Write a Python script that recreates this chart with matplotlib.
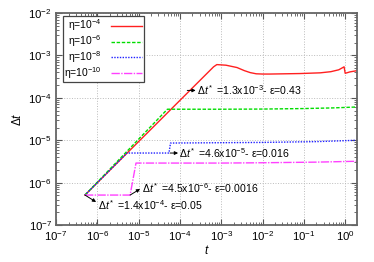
import numpy as np
import matplotlib
matplotlib.use('Agg')
import matplotlib.pyplot as plt
from matplotlib.ticker import LogLocator, NullFormatter

plt.rcParams['font.family'] = ['Liberation Sans', 'DejaVu Sans']
plt.rcParams['mathtext.fontset'] = 'custom'
plt.rcParams['mathtext.rm'] = 'Liberation Sans'
plt.rcParams['mathtext.it'] = 'Liberation Sans:italic'

# curves: time t and step size dt
t_e4 = [5.0e-7, 6.5e-4, 7.8e-4, 1.3e-3, 2.4e-3, 3.6e-3, 5.0e-3, 7.0e-3, 1.0e-2, 1.5e-2, 8.0e-2,
        0.25, 0.45, 0.7, 0.94, 1.0, 1.3, 1.95]
dt_e4 = [5.1e-7, 5.4e-4, 6.1e-4, 5.9e-4, 5.2e-4, 4.4e-4, 3.95e-4, 3.7e-4, 3.65e-4, 3.65e-4, 3.75e-4,
         3.9e-4, 4.15e-4, 4.6e-4, 5.4e-4, 3.8e-4, 4.1e-4, 4.4e-4]

t_e6 = [5.0e-7, 4.95e-5, 1e-3, 1e-2, 0.1, 0.5, 1.95]
dt_e6 = [5.1e-7, 5.4e-5, 5.4e-5, 5.45e-5, 5.6e-5, 5.8e-5, 6.1e-5]

t_e8 = [5.0e-7, 5.2e-6, 5.4e-5, 5.9e-5, 1e-2, 0.2, 1.95]
dt_e8 = [5.1e-7, 5.0e-6, 5.0e-6, 8.6e-6, 8.9e-6, 9.3e-6, 1.0e-5]

t_e10 = [5.0e-7, 6.2e-6, 8.6e-6, 1e-3, 1e-2, 0.2, 1.95]
dt_e10 = [5.1e-7, 5.1e-7, 2.9e-6, 2.9e-6, 2.95e-6, 3.05e-6, 3.2e-6]

labels = ['η=10$^{-4}$', 'η=10$^{-6}$', 'η=10$^{-8}$', 'η=10$^{-10}$']

# annotations: (arrow tail on curve, arrow head, text position, text)
notes = [
    ((1.5e-4, 1.5e-4), (2.4e-4, 1.5e-4), (2.6e-4, 1.5e-4), r'$\Delta t^*$ =1.3x10$^{-3}$- ε=0.43'),
    ((5.75e-5, 5.0e-6), (9.0e-5, 5.0e-6), (9.6e-5, 5.0e-6), r'$\Delta t^*$ =4.6x10$^{-5}$- ε=0.016'),
    ((6.2e-6, 5.1e-7), (1.08e-5, 7.1e-7), (1.2e-5, 7.5e-7), r'$\Delta t^*$ =4.5x10$^{-6}$- ε=0.0016'),
    ((5.0e-7, 5.1e-7), (9.3e-7, 3.5e-7), (1.04e-6, 3.0e-7), r'$\Delta t^*$ =1.4x10$^{-4}$- ε=0.05'),
]

fig = plt.figure(figsize=(3.74, 2.62), dpi=100)
ax = fig.add_axes([0.150, 0.141, 0.805, 0.809])

ax.plot(t_e4, dt_e4, color='#ff2020', lw=1.0, label=labels[0])
ax.plot(t_e6, dt_e6, color='#00dd00', lw=1.0, ls=(0, (2.5, 1.2)), label=labels[1])
ax.plot(t_e8, dt_e8, color='#2020ff', lw=1.0, ls=(0, (1, 1)), label=labels[2])
ax.plot(t_e10, dt_e10, color='#ff40ff', lw=1.0, ls=(0, (6, 1, 1, 1)), label=labels[3])

for tail, head, pos, txt in notes:
    ax.annotate('', xy=head, xytext=tail,
                arrowprops=dict(arrowstyle='-|>', lw=0.7, color='black',
                                mutation_scale=5, shrinkA=0, shrinkB=0))
    ax.text(pos[0], pos[1], txt, fontsize=7.6, ha='left', va='center')

ax.set_xscale('log')
ax.set_yscale('log')
ax.set_xlim(1e-7, 1.95)
ax.set_ylim(1e-7, 1e-2)

ax.xaxis.set_major_locator(LogLocator(base=10, numticks=20))
ax.yaxis.set_major_locator(LogLocator(base=10, numticks=20))
ax.xaxis.set_minor_locator(LogLocator(base=10, subs=np.arange(2, 10), numticks=20))
ax.yaxis.set_minor_locator(LogLocator(base=10, subs=np.arange(2, 10), numticks=20))
ax.xaxis.set_minor_formatter(NullFormatter())
ax.yaxis.set_minor_formatter(NullFormatter())

ax.tick_params(which='both', direction='in', top=True, right=True, color='#555555', labelsize=8.2)
ax.tick_params(which='major', length=4, width=0.8, pad=3)
ax.tick_params(which='minor', length=2, width=0.6)
ax.grid(True, which='major', color='#bbbbbb', ls=':', lw=0.7)
for s in ax.spines.values():
    s.set_color('#666666')
    s.set_linewidth(1.3)

ax.set_xlabel(r'$t$', fontsize=8.5, labelpad=1)
ax.set_ylabel(r'$\Delta t$', fontsize=8.5, labelpad=3)

leg = ax.legend(loc='upper left', bbox_to_anchor=(0.022, 0.986), markerfirst=False,
                fontsize=7.5, fancybox=False, framealpha=1, edgecolor='#444444',
                handlelength=3.0, handletextpad=0.9, labelspacing=0.0,
                borderpad=0.15, borderaxespad=0)
leg.get_frame().set_linewidth(0.9)

fig.savefig('out.png', dpi=100)
